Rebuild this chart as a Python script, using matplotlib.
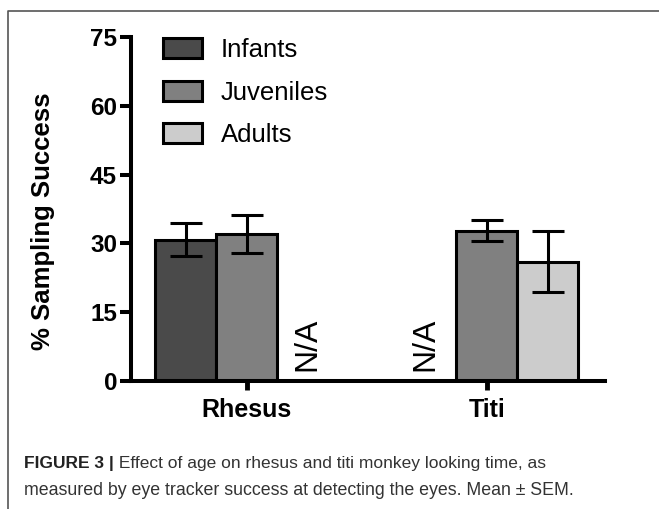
import numpy as np
from matplotlib import pyplot as plt
import matplotlib.patches as mpatches
from matplotlib.lines import Line2D

plt.rcParams['font.family'] = ['Liberation Sans', 'DejaVu Sans']

# data
species = ["Rhesus", "Titi"]
age_groups = ["Infants", "Juveniles", "Adults"]
infants_mean = [30.8, np.nan]
infants_sem = [3.6, np.nan]
juveniles_mean = [32.0, 32.8]
juveniles_sem = [4.2, 2.3]
adults_mean = [np.nan, 26.0]
adults_sem = [np.nan, 6.7]
y_ticks = [0, 15, 30, 45, 60, 75]

colors = ['#4a4a4a', '#808080', '#cccccc']
means = [infants_mean, juveniles_mean, adults_mean]
sems = [infants_sem, juveniles_sem, adults_sem]

W, H = 659, 509
fig = plt.figure(figsize=(W / 100, H / 100), dpi=100)
ax = fig.add_axes([131 / W, 1 - 381 / H, (605 - 131) / W, (381 - 37) / H])

width = 0.254
x_pos = np.arange(len(species))

for i in range(3):
    xs = x_pos + (i - 1) * width
    for j in range(len(species)):
        m = means[i][j]
        if np.isnan(m):
            ax.text(xs[j], 2.2, "N/A", rotation=90, ha='center', va='bottom',
                    fontsize=23)
            continue
        ax.bar(xs[j], m, width, color=colors[i], edgecolor='black', linewidth=2.2,
               zorder=2)
        ax.errorbar(xs[j], m, yerr=sems[i][j], color='black', elinewidth=2.2,
                    capsize=11.5, capthick=2.2, zorder=3)

ax.set_xlim(-0.482, 1.493)
ax.set_ylim(0, 75)
ax.set_yticks(y_ticks)
ax.set_xticks(x_pos)
ax.set_xticklabels(species, fontsize=18, fontweight='bold')
for lab in ax.get_yticklabels():
    lab.set_fontsize(17.5)
    lab.set_fontweight('bold')
ax.set_ylabel("% Sampling Success", fontsize=18.5, fontweight='bold')
ax.yaxis.set_label_coords(-0.16, 0.465)

ax.spines['top'].set_visible(False)
ax.spines['right'].set_visible(False)
ax.spines['left'].set_linewidth(2.9)
ax.spines['bottom'].set_linewidth(2.9)
ax.tick_params(axis='y', length=8, width=2.9, pad=2)
ax.tick_params(axis='x', length=6.5, width=3.5, pad=6)

handles = [mpatches.Patch(facecolor=c, edgecolor='black', linewidth=2.2, label=l)
           for c, l in zip(colors, age_groups)]
ax.legend(handles=handles, loc='upper left', bbox_to_anchor=(163 / W, 1 - 38 / H),
          bbox_transform=fig.transFigure, frameon=False, fontsize=18.5,
          handlelength=1.5, handleheight=0.82, handletextpad=0.75,
          labelspacing=0.72, borderpad=0, borderaxespad=0)

# outer frame
fig.add_artist(Line2D([8 / W, 8 / W, 1], [0, 1 - 11 / H, 1 - 11 / H],
                      transform=fig.transFigure, color='#555555', linewidth=1.2))

# caption
t1 = fig.text(24 / W, 1 - 468 / H, "FIGURE 3 |", fontsize=12.5, fontweight='bold',
              color='#222222', va='baseline')
plt.annotate(" Effect of age on rhesus and titi monkey looking time, as",
             xy=(1, 1 - 468 / H), xycoords=(t1, 'figure fraction'), va='baseline',
             fontsize=12.5, color='#333333')
fig.text(24 / W, 1 - 495 / H,
         "measured by eye tracker success at detecting the eyes. Mean \u00b1 SEM.",
         fontsize=12.8, color='#333333', va='baseline')

fig.savefig("out.png", dpi=100)
